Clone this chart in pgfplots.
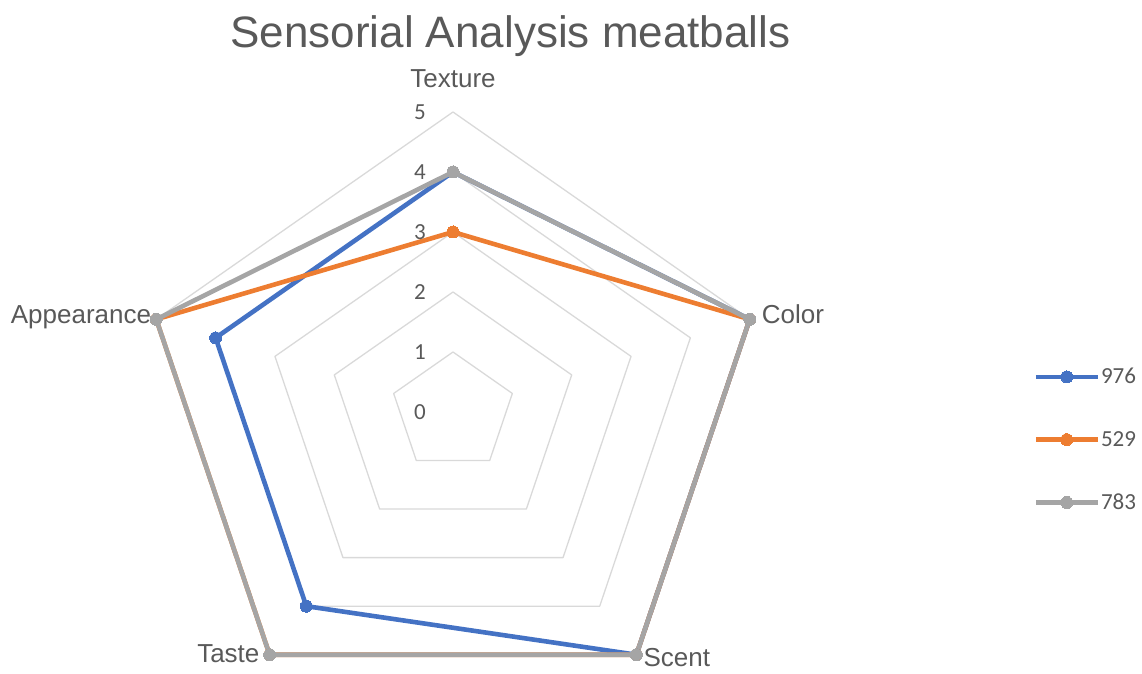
\documentclass[border=0pt]{standalone}
\usepackage{fontspec}
\setmainfont{Liberation Sans}
\newfontfamily\calfont{Carlito}
\usepackage{pgfplots}
\pgfplotsset{compat=1.18}
\definecolor{s976}{HTML}{4472C4}
\definecolor{s529}{HTML}{ED7D31}
\definecolor{s783}{HTML}{A5A5A5}
\definecolor{gridc}{HTML}{D9D9D9}
\definecolor{txt}{HTML}{595959}
\begin{document}
\begin{tikzpicture}
\begin{axis}[
  x=62.4pt, y=60pt,
  xmin=-5.5, xmax=5.5, ymin=-5.5, ymax=5.5,
  hide axis, clip=false,
  legend style={at={(1.341,0.458)}, anchor=west, draw=none, fill=none,
    font=\calfont\fontsize{23}{27}\selectfont, text=txt, row sep=44pt,
    nodes={inner sep=1pt}},
  legend cell align=left,
  legend image code/.code={\draw[mark repeat=2,mark phase=2,#1] plot coordinates {(0pt,0pt) (31pt,0pt) (62pt,0pt)};},
  every axis plot/.append style={line join=round},
]
% pentagon grid
\addplot[gridc, line width=1.3pt, data cs=polar, forget plot] coordinates {(90,1) (18,1) (-54,1) (-126,1) (162,1) (90,1)};
\addplot[gridc, line width=1.3pt, data cs=polar, forget plot] coordinates {(90,2) (18,2) (-54,2) (-126,2) (162,2) (90,2)};
\addplot[gridc, line width=1.3pt, data cs=polar, forget plot] coordinates {(90,3) (18,3) (-54,3) (-126,3) (162,3) (90,3)};
\addplot[gridc, line width=1.3pt, data cs=polar, forget plot] coordinates {(90,4) (18,4) (-54,4) (-126,4) (162,4) (90,4)};
\addplot[gridc, line width=1.3pt, data cs=polar, forget plot] coordinates {(90,5) (18,5) (-54,5) (-126,5) (162,5) (90,5)};
% series: Texture, Color, Scent, Taste, Appearance
\addplot[s976, line width=4.6pt, mark=*, mark size=6pt, mark options={fill=s976, draw=s976, line width=0pt}, data cs=polar]
  coordinates {(90,4) (18,5) (-54,5) (-126,4) (162,4) (90,4)};
\addlegendentry{976}
\addplot[s529, line width=4.6pt, mark=*, mark size=6pt, mark options={fill=s529, draw=s529, line width=0pt}, data cs=polar]
  coordinates {(90,3) (18,5) (-54,5) (-126,5) (162,5) (90,3)};
\addlegendentry{529}
\addplot[s783, line width=4.6pt, mark=*, mark size=6pt, mark options={fill=s783, draw=s783, line width=0pt}, data cs=polar]
  coordinates {(90,4) (18,5) (-54,5) (-126,5) (162,5) (90,4)};
\addlegendentry{783}
% radial value labels
\foreach \k in {0,...,5} {
  \edef\temp{\noexpand\node[anchor=east, inner sep=0pt, text=txt, font=\noexpand\calfont\noexpand\fontsize{23}{27}\noexpand\selectfont, xshift=-27pt] at (axis cs:0,\k) {\k};}
  \temp
}
% category labels
\node[anchor=base, inner sep=0pt, text=txt, font=\fontsize{26}{30}\selectfont, yshift=24pt] at (axis cs:0,5) {Texture};
\node[anchor=west, inner sep=0pt, text=txt, font=\fontsize{26}{30}\selectfont, xshift=12pt, yshift=5pt] at (axis cs:4.755,1.545) {Color};
\node[anchor=base west, inner sep=0pt, text=txt, font=\fontsize{26}{30}\selectfont, xshift=7pt, yshift=-12pt] at (axis cs:2.939,-4.045) {Scent};
\node[anchor=base east, inner sep=0pt, text=txt, font=\fontsize{26}{30}\selectfont, xshift=-10pt, yshift=-8pt] at (axis cs:-2.939,-4.045) {Taste};
\node[anchor=base east, inner sep=0pt, text=txt, font=\fontsize{26}{30}\selectfont, xshift=-5pt, yshift=-4pt] at (axis cs:-4.755,1.545) {Appearance};
% title
\node[anchor=base, inner sep=0pt, text=txt, font=\fontsize{44}{50}\selectfont] at (axis cs:0.92,6.08) {Sensorial Analysis meatballs};
\coordinate (c) at (axis cs:0,0);
\end{axis}
\pgfresetboundingbox
\path[use as bounding box] (c) ++(-453pt,412pt) rectangle ++(1142pt,-673pt);
\end{tikzpicture}
\end{document}
